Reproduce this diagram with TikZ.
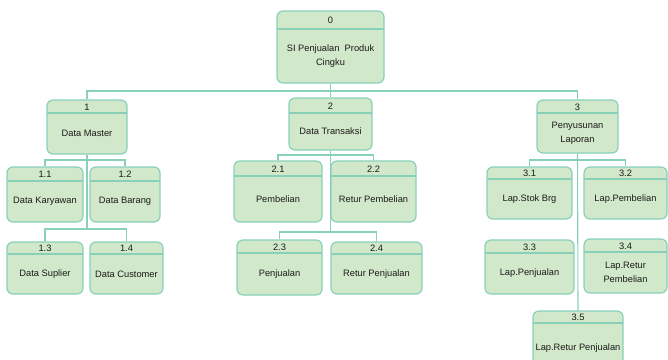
\documentclass[tikz,border=0pt]{standalone}
\usepackage{fontspec}
\setmainfont{Liberation Sans}
\usetikzlibrary{fit}
\definecolor{boxfill}{HTML}{D2E8CA}
\definecolor{boxline}{HTML}{88D1B8}
\definecolor{txt}{HTML}{1A1A1A}
\tikzset{
  procbox/.style={draw=boxline, fill=boxfill, line width=1.2pt, rounded corners=6pt, inner sep=0pt},
  divline/.style={draw=boxline, line width=1.1pt},
  conn/.style={draw=boxline, line width=1.1pt},
  lbl/.style={font=\fontsize{9.3}{14}\selectfont, text=txt, align=center, inner sep=0pt}
}
% name, x1, y1, x2, y2, divider y, number, label
\newcommand\procnode[8]{%
  \node[procbox, fit={(#2,#3) (#4,#5)}] (#1) {};
  \draw[divline] (#2,#6) -- (#4,#6);
  \node[lbl] (#1num) at ({(#2+#4)/2},{(#3+#6)/2+0.5}) {#7};
  \node[lbl] (#1lbl) at ({(#2+#4)/2},{(#6+#5)/2}) {#8};
}
\begin{document}
\begin{tikzpicture}[x=1pt,y=-1pt]
\useasboundingbox (0,0) rectangle (668,359);
\begin{scope}
\clip (0,0) rectangle (668,359);
% level 0
\procnode{n0}{277}{11}{384}{83}{29}{0}{SI Penjualan\ \ Produk\\Cingku}
% level 1
\procnode{n1}{47}{100}{127}{154}{113}{1}{Data Master}
\procnode{n2}{289}{98}{372}{150}{113}{2}{Data Transaksi}
\procnode{n3}{537}{100}{618}{153}{113}{3}{Penyusunan\\Laporan}
% children of 1
\procnode{n11}{7}{167}{83}{222}{181}{1.1}{Data Karyawan}
\procnode{n12}{90}{167}{160}{222}{181}{1.2}{Data Barang}
\procnode{n13}{7}{242}{83}{294}{254}{1.3}{Data Suplier}
\procnode{n14}{90}{242}{163}{294}{254}{1.4}{Data Customer}
% children of 2
\procnode{n21}{234}{161}{322}{222}{176}{2.1}{Pembelian}
\procnode{n22}{331}{161}{416}{222}{176}{2.2}{Retur Pembelian}
\procnode{n23}{237}{240}{322}{295}{253}{2.3}{Penjualan}
\procnode{n24}{331}{242}{422}{294}{254}{2.4}{Retur Penjualan}
% children of 3
\procnode{n31}{487}{167}{572}{219}{179}{3.1}{Lap.Stok Brg}
\procnode{n32}{584}{167}{667}{219}{179}{3.2}{Lap.Pembelian}
\procnode{n33}{485}{240}{574}{294}{253}{3.3}{Lap.Penjualan}
\procnode{n34}{584}{239}{667}{293}{252}{3.4}{Lap.Retur\\Pembelian}
\procnode{n35}{533}{311}{623}{373}{323}{3.5}{Lap.Retur Penjualan}
\end{scope}
% bus coordinates
\coordinate (b0) at (330.5,91);
\coordinate (b1) at (87,160);
\coordinate (b1b) at (87,229);
\coordinate (b2) at (330.5,155);
\coordinate (b2b) at (330.5,232);
\coordinate (b3) at (577.5,160);
% connectors
\draw[conn] (n0.south) -- (b0);
\draw[conn] (b0) -| (n1.north);
\draw[conn] (b0) -- (n2.north);
\draw[conn] (b0) -| (n3.north);
\draw[conn] (n1.south) -- (b1b);
\draw[conn] (b1) -| (n11.north);
\draw[conn] (b1) -| (n12.north);
\draw[conn] (b1b) -| (n13.north);
\draw[conn] (b1b) -| (n14.north);
\draw[conn] (n2.south) -- (b2b);
\draw[conn] (b2) -| (n21.north);
\draw[conn] (b2) -| (n22.north);
\draw[conn] (b2b) -| (n23.north);
\draw[conn] (b2b) -| (n24.north);
\draw[conn] (n3.south) -- (n35.north);
\draw[conn] (b3) -| (n31.north);
\draw[conn] (b3) -| (n32.north);
\end{tikzpicture}
\end{document}
